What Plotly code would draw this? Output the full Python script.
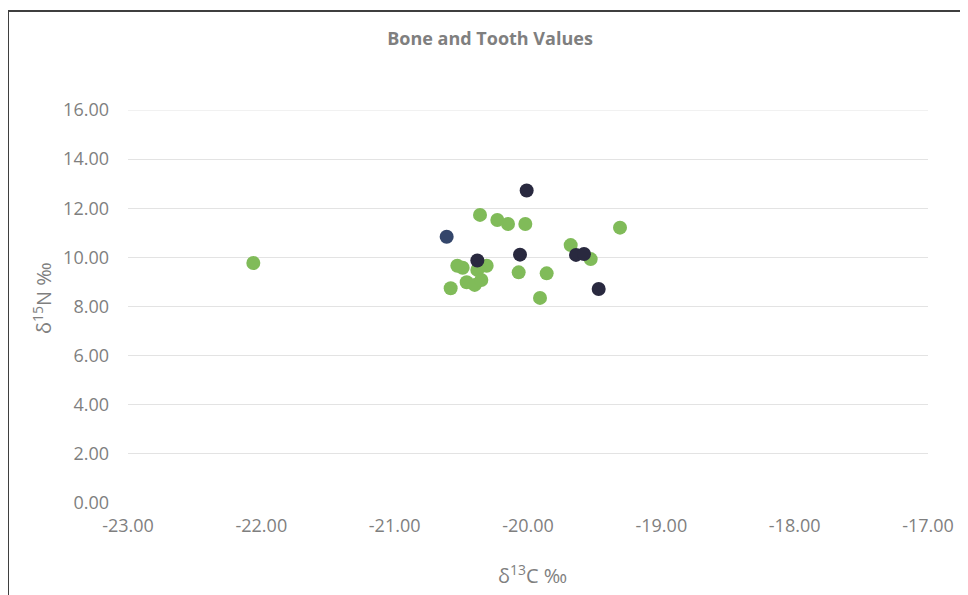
import plotly.graph_objects as go

# δ13C (x) and δ15N (y) values
green_x = [-22.06, -20.36, -20.23, -20.15, -20.02, -19.31, -19.68, -19.53, -20.53, -20.49,
           -20.31, -20.38, -20.07, -19.86, -20.46, -20.40, -20.35, -20.58, -19.91]
green_y = [9.77, 11.73, 11.52, 11.36, 11.36, 11.21, 10.50, 9.93, 9.66, 9.58,
           9.66, 9.49, 9.39, 9.35, 8.99, 8.88, 9.08, 8.74, 8.35]

dark_x = [-20.01, -20.06, -19.64, -19.58, -20.38, -19.47]
dark_y = [12.72, 10.11, 10.10, 10.14, 9.87, 8.71]

blue_x = [-20.61]
blue_y = [10.84]

x_ticks = [-23, -22, -21, -20, -19, -18, -17]
x_tick_labels = ["-23.00", "-22.00", "-21.00", "-20.00", "-19.00", "-18.00", "-17.00"]
y_ticks = [0, 2, 4, 6, 8, 10, 12, 14, 16]
y_tick_labels = ["0.00", "2.00", "4.00", "6.00", "8.00", "10.00", "12.00", "14.00", "16.00"]

GRAY = "#7f7f7f"
GRID = "#e3e3e3"
FONT = "Open Sans, Noto Sans, sans-serif"

fig = go.Figure()
fig.add_trace(go.Scatter(x=green_x, y=green_y, mode="markers",
                         marker=dict(color="#80bb59", size=14), name="Tooth"))
fig.add_trace(go.Scatter(x=blue_x, y=blue_y, mode="markers",
                         marker=dict(color="#34466b", size=14), name="Bone 2"))
fig.add_trace(go.Scatter(x=dark_x, y=dark_y, mode="markers",
                         marker=dict(color="#29293f", size=14), name="Bone"))

fig.update_layout(
    width=968, height=595,
    margin=dict(l=120, r=48, t=102, b=100),
    paper_bgcolor="#ffffff", plot_bgcolor="#ffffff",
    showlegend=False,
    font=dict(family=FONT, color=GRAY, size=16),
    title=dict(text="<b>Bone and Tooth Values</b>", x=482 / 968, xanchor="center",
               y=1 - 31 / 595, yanchor="middle", yref="container",
               font=dict(family=FONT, size=18, color=GRAY)),
    xaxis=dict(range=[-23, -17], tickvals=x_ticks, ticktext=x_tick_labels,
               showgrid=False, zeroline=False, showline=False,
               ticks="", ticklabelstandoff=10,
               tickfont=dict(size=18, color=GRAY)),
    yaxis=dict(range=[0, 16], tickvals=y_ticks, ticktext=y_tick_labels,
               showgrid=True, gridcolor=GRID, gridwidth=1,
               zeroline=False, showline=False, ticks="",
               ticklabelstandoff=18,
               tickfont=dict(size=18, color=GRAY)),
)

# axis titles
fig.add_annotation(text="δ<sup>13</sup>C ‰",
                   xref="paper", yref="paper", x=0.505, y=-0.183,
                   xanchor="center", yanchor="middle", showarrow=False,
                   font=dict(size=20, color=GRAY))
fig.add_annotation(text="δ<sup>15</sup>N ‰",
                   xref="paper", yref="paper", x=-0.1075, y=0.5216,
                   xanchor="center", yanchor="middle", showarrow=False,
                   textangle=-90, font=dict(size=20, color=GRAY))

# top gridline (at the edge of the axis range)
fig.add_shape(type="line", xref="paper", yref="y", x0=0, x1=1,
              y0=y_ticks[-1], y1=y_ticks[-1], line=dict(color=GRID, width=1),
              layer="below")

# outer frame around the chart area
fig.add_shape(type="rect", xref="paper", yref="paper",
              x0=(0 - 120) / 800, x1=1.3, y0=-0.5, y1=(495 - 3) / 393,
              line=dict(color="#3f3f3f", width=2), fillcolor="rgba(0,0,0,0)",
              layer="below")

fig.write_html("out.html")
